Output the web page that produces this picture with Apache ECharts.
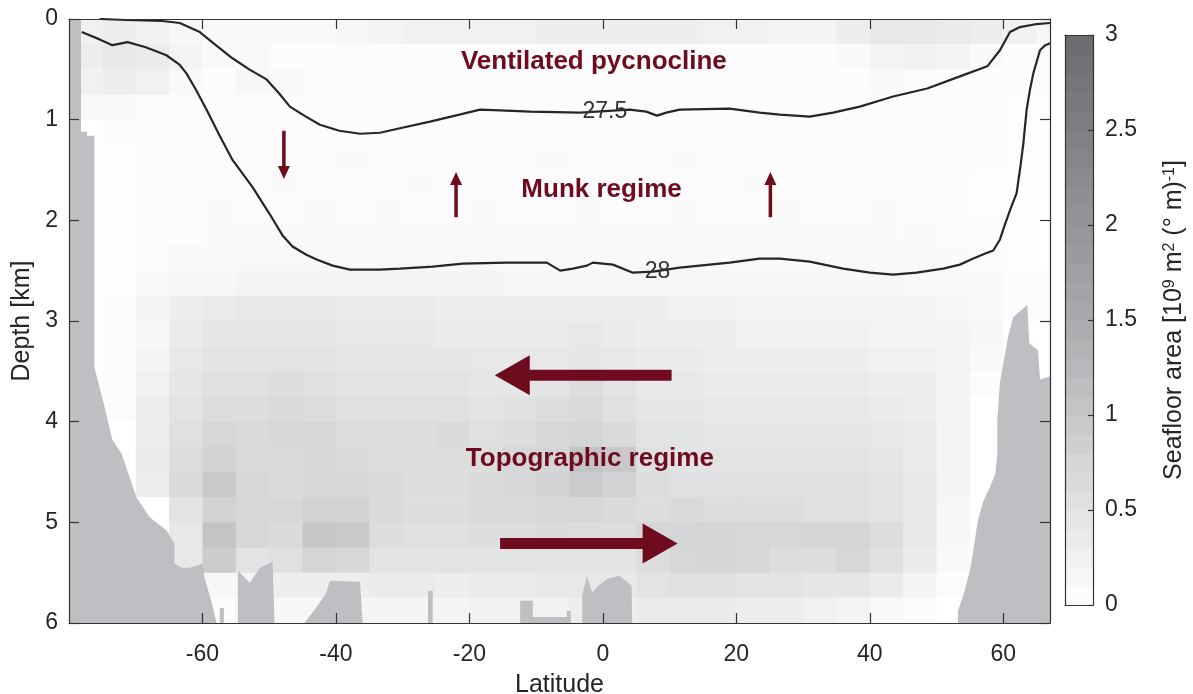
<!DOCTYPE html>
<html>
<head>
<meta charset="utf-8">
<title>Seafloor area by latitude and depth</title>
<script src="https://cdn.jsdelivr.net/npm/echarts@6/dist/echarts.min.js"></script>
<style>
  html, body { margin: 0; padding: 0; background: #fff; }
  #chart { width: 1193px; height: 694px; }
</style>
</head>
<body>
<div id="chart"></div>
<script>
// bin centres of the seafloor-area field (5 deg x 0.25 km)
const lats = [-77.5, -72.5, -67.5, -62.5, -57.5, -52.5, -47.5, -42.5, -37.5, -32.5,
  -27.5, -22.5, -17.5, -12.5, -7.5, -2.5, 2.5, 7.5, 12.5, 17.5,
  22.5, 27.5, 32.5, 37.5, 42.5, 47.5, 52.5, 57.5, 62.5, 67.5]
const depths = [0.125, 0.375, 0.625, 0.875, 1.125, 1.375, 1.625, 1.875, 2.125, 2.375, 2.625, 2.875,
  3.125, 3.375, 3.625, 3.875, 4.125, 4.375, 4.625, 4.875, 5.125, 5.375, 5.625, 5.875]

// seafloor area [10^9 m^2 (deg m)^-1], one row per depth bin
const area = [
  [0.25, 0.3, 0.25, 0.15, 0.1, 0.1, 0.1, 0.1, 0.15, 0.2, 0.25, 0.25, 0.25, 0.25, 0.3, 0.3, 0.3, 0.3, 0.3, 0.25, 0.25, 0.2, 0.2, 0.3, 0.4, 0.4, 0.35, 0.3, 0.25, 0.15],
  [0.3, 0.4, 0.35, 0.2, 0.1, 0.1, 0.05, 0.05, 0.05, 0.05, 0.05, 0.05, 0.05, 0.05, 0.05, 0.05, 0.05, 0.05, 0.05, 0.05, 0.05, 0.05, 0.05, 0.1, 0.2, 0.25, 0.2, 0.1, 0.05, 0.05],
  [0.25, 0.3, 0.25, 0.1, 0.05, 0.15, 0.1, 0.05, 0.05, 0.05, 0.05, 0.05, 0.05, 0.05, 0.05, 0.05, 0.05, 0.05, 0.05, 0.05, 0.05, 0.05, 0.05, 0.05, 0.1, 0.05, 0.05, 0.05, 0.05, 0.05],
  [0.1, 0.1, 0.05, 0.05, 0.05, 0.05, 0.05, 0.05, 0.05, 0.05, 0.05, 0.05, 0.05, 0.05, 0.05, 0.05, 0.05, 0.05, 0.05, 0.05, 0.05, 0.05, 0.05, 0.05, 0.05, 0.05, 0.05, 0.05, 0.03, 0.03],
  [0, 0.05, 0.05, 0.05, 0.05, 0.05, 0.05, 0.05, 0.05, 0.05, 0.05, 0.05, 0.05, 0.05, 0.05, 0.05, 0.05, 0.05, 0.05, 0.05, 0.05, 0.05, 0.05, 0.05, 0.05, 0.05, 0.05, 0.05, 0.03, 0.03],
  [0, 0.03, 0.05, 0.05, 0.05, 0.05, 0.05, 0.05, 0.08, 0.05, 0.05, 0.05, 0.05, 0.05, 0.08, 0.05, 0.05, 0.05, 0.08, 0.05, 0.05, 0.05, 0.05, 0.05, 0.05, 0.05, 0.05, 0.05, 0.03, 0.03],
  [0, 0.03, 0.05, 0.05, 0.05, 0.05, 0.08, 0.05, 0.05, 0.05, 0.08, 0.05, 0.05, 0.05, 0.05, 0.05, 0.08, 0.05, 0.05, 0.05, 0.08, 0.05, 0.05, 0.05, 0.05, 0.05, 0.05, 0.03, 0.03, 0.03],
  [0, 0.03, 0.05, 0.05, 0.08, 0.05, 0.05, 0.08, 0.05, 0.08, 0.05, 0.05, 0.08, 0.05, 0.05, 0.08, 0.05, 0.05, 0.08, 0.05, 0.05, 0.08, 0.05, 0.05, 0.08, 0.05, 0.05, 0.03, 0.03, 0],
  [0, 0.03, 0.05, 0.05, 0.08, 0.08, 0.08, 0.08, 0.08, 0.08, 0.08, 0.08, 0.08, 0.08, 0.08, 0.08, 0.08, 0.08, 0.08, 0.08, 0.08, 0.08, 0.08, 0.08, 0.08, 0.08, 0.05, 0.05, 0.03, 0],
  [0, 0.03, 0.05, 0.1, 0.1, 0.12, 0.12, 0.12, 0.12, 0.12, 0.12, 0.12, 0.12, 0.1, 0.1, 0.1, 0.1, 0.1, 0.1, 0.1, 0.1, 0.1, 0.1, 0.1, 0.1, 0.1, 0.08, 0.05, 0.03, 0],
  [0, 0.03, 0.1, 0.15, 0.15, 0.2, 0.2, 0.2, 0.2, 0.2, 0.2, 0.2, 0.2, 0.15, 0.15, 0.15, 0.15, 0.15, 0.15, 0.15, 0.15, 0.15, 0.15, 0.15, 0.15, 0.1, 0.1, 0.1, 0.05, 0.05],
  [0, 0.05, 0.2, 0.3, 0.35, 0.4, 0.4, 0.4, 0.35, 0.35, 0.35, 0.3, 0.3, 0.3, 0.3, 0.3, 0.3, 0.3, 0.25, 0.25, 0.2, 0.2, 0.2, 0.2, 0.2, 0.2, 0.15, 0.1, 0.05, 0.05],
  [0, 0.05, 0.15, 0.35, 0.45, 0.45, 0.45, 0.45, 0.4, 0.4, 0.4, 0.35, 0.35, 0.35, 0.35, 0.4, 0.35, 0.3, 0.3, 0.3, 0.25, 0.25, 0.25, 0.25, 0.2, 0.2, 0.2, 0.15, 0, 0],
  [0, 0.05, 0.2, 0.4, 0.5, 0.5, 0.5, 0.5, 0.45, 0.45, 0.45, 0.45, 0.4, 0.4, 0.4, 0.45, 0.4, 0.35, 0.35, 0.3, 0.3, 0.3, 0.3, 0.3, 0.25, 0.25, 0.2, 0.1, 0, 0],
  [0, 0.05, 0.25, 0.45, 0.55, 0.55, 0.6, 0.55, 0.5, 0.5, 0.5, 0.5, 0.45, 0.45, 0.5, 0.6, 0.5, 0.4, 0.4, 0.35, 0.35, 0.35, 0.35, 0.35, 0.3, 0.3, 0.2, 0.05, 0, 0],
  [0, 0.05, 0.3, 0.5, 0.6, 0.6, 0.65, 0.6, 0.55, 0.55, 0.55, 0.55, 0.5, 0.55, 0.6, 0.65, 0.55, 0.45, 0.45, 0.4, 0.4, 0.4, 0.4, 0.4, 0.35, 0.3, 0.2, 0, 0, 0],
  [0, 0, 0.3, 0.55, 0.7, 0.65, 0.7, 0.7, 0.6, 0.6, 0.6, 0.65, 0.55, 0.6, 0.7, 0.75, 0.65, 0.5, 0.5, 0.45, 0.45, 0.45, 0.45, 0.45, 0.4, 0.35, 0.2, 0, 0, 0],
  [0, 0, 0.35, 0.6, 0.8, 0.65, 0.65, 0.7, 0.65, 0.6, 0.6, 0.6, 0.6, 0.7, 0.75, 1.05, 0.95, 0.55, 0.5, 0.5, 0.5, 0.5, 0.5, 0.5, 0.45, 0.35, 0.2, 0, 0, 0],
  [0, 0, 0.3, 0.65, 0.95, 0.7, 0.65, 0.7, 0.7, 0.65, 0.6, 0.6, 0.65, 0.7, 0.8, 0.9, 0.8, 0.6, 0.55, 0.55, 0.55, 0.55, 0.55, 0.55, 0.5, 0.4, 0.2, 0, 0, 0],
  [0, 0, 0, 0.5, 0.8, 0.7, 0.7, 0.8, 0.8, 0.65, 0.6, 0.6, 0.65, 0.65, 0.7, 0.7, 0.65, 0.6, 0.65, 0.6, 0.6, 0.6, 0.55, 0.55, 0.5, 0.4, 0.15, 0, 0, 0],
  [0, 0, 0, 0.4, 1.05, 0.7, 0.65, 1.0, 0.95, 0.6, 0.55, 0.55, 0.6, 0.6, 0.65, 0.6, 0.6, 0.7, 0.75, 0.75, 0.7, 0.7, 0.75, 0.75, 0.6, 0.4, 0.15, 0, 0, 0],
  [0, 0, 0, 0.4, 0.9, 0.5, 0.55, 0.75, 0.7, 0.5, 0.5, 0.5, 0.5, 0.5, 0.5, 0.5, 0.5, 0.6, 0.7, 0.75, 0.7, 0.6, 0.6, 0.7, 0.55, 0.35, 0.1, 0, 0, 0],
  [0, 0, 0, 0.2, 0.15, 0.2, 0.3, 0.3, 0.3, 0.35, 0.35, 0.3, 0.35, 0.35, 0.4, 0.4, 0.4, 0.5, 0.55, 0.55, 0.5, 0.5, 0.45, 0.45, 0.35, 0.2, 0.05, 0, 0, 0],
  [0, 0, 0, 0.05, 0.05, 0.1, 0.15, 0.15, 0.2, 0.2, 0.2, 0.2, 0.25, 0.25, 0.25, 0.3, 0.3, 0.35, 0.35, 0.35, 0.3, 0.3, 0.25, 0.2, 0.1, 0.05, 0, 0, 0, 0]
]

const latTicks = [-60, -40, -20, 0, 20, 40, 60]
const cbarLevels = [0.05, 0.15, 0.25, 0.35, 0.45, 0.55, 0.65, 0.75, 0.85, 0.95,
  1.05, 1.15, 1.25, 1.35, 1.45, 1.55, 1.65, 1.75, 1.85, 1.95,
  2.05, 2.15, 2.25, 2.35, 2.45, 2.55, 2.65, 2.75, 2.85, 2.95]

// density contours [lat, depth km]
const sigma275 = [[-75.4, 0.0], [-71.4, 0.01], [-66, 0.02], [-63.4, 0.04], [-60.4, 0.13], [-58, 0.26],
  [-55.5, 0.39], [-53, 0.5], [-50.4, 0.6], [-48.5, 0.74], [-46.9, 0.87], [-44.5, 0.97], [-42.4, 1.05],
  [-39.5, 1.11], [-36.4, 1.14], [-33.4, 1.13], [-30.4, 1.085], [-25.9, 1.02], [-21.5, 0.95], [-18.4, 0.9],
  [-14.5, 0.91], [-10.9, 0.92], [-3.4, 0.93], [4.0, 0.9], [6.5, 0.92], [8.1, 0.96], [9.5, 0.93],
  [11.5, 0.9], [19, 0.89], [23.5, 0.93], [26.5, 0.95], [31, 0.97], [34.5, 0.93], [38.5, 0.87],
  [43.5, 0.77], [48.6, 0.69], [53.5, 0.57], [57.6, 0.47], [59.5, 0.31], [61, 0.13], [62.5, 0.08],
  [65, 0.05], [67, 0.04]]
const sigma28 = [[-78.1, 0.13], [-75.5, 0.2], [-73.5, 0.26], [-71.2, 0.23], [-68.5, 0.28], [-65.4, 0.36],
  [-63.5, 0.45], [-62.4, 0.54], [-61, 0.7], [-59.4, 0.9], [-57.5, 1.15], [-55.5, 1.4], [-52.5, 1.67],
  [-50, 1.93], [-48, 2.15], [-46.5, 2.26], [-44.5, 2.34], [-42.9, 2.39], [-40.5, 2.45], [-37.9, 2.49],
  [-33.4, 2.49], [-30.4, 2.48], [-25.5, 2.46], [-21, 2.43], [-14.5, 2.42], [-8.4, 2.42], [-6.4, 2.5],
  [-4.5, 2.48], [-2.4, 2.45], [-1.5, 2.42], [1.5, 2.44], [4.5, 2.52], [7.5, 2.51], [11.5, 2.47],
  [19, 2.42], [23.5, 2.38], [26.5, 2.38], [31, 2.41], [36, 2.48], [40, 2.52], [43.5, 2.54], [47, 2.52],
  [51, 2.48], [53.5, 2.44], [55.5, 2.38], [57.3, 2.33], [58.5, 2.3], [59.5, 2.19], [60.2, 2.05],
  [61, 1.9], [62, 1.73], [62.6, 1.45], [63, 1.24], [63.5, 0.9], [64, 0.7], [64.5, 0.54], [65.5, 0.31],
  [66.3, 0.26], [67, 0.24]]

// top of the seafloor (grey mask below it)
const seafloor = [[-80, 0], [-78.2, 0], [-78.2, 1.12], [-77.3, 1.12], [-77.3, 1.16], [-76.2, 1.16],
  [-76.2, 3.46], [-74.8, 3.82], [-73.5, 4.18], [-72.1, 4.32], [-69.9, 4.75], [-67.9, 4.95], [-65.4, 5.08],
  [-64.2, 5.21], [-64.2, 5.41], [-63.1, 5.45], [-61.9, 5.45], [-60.0, 5.41], [-59.7, 5.55], [-58.6, 5.8],
  [-57.9, 6], [-57.4, 6], [-57.4, 5.85], [-56.8, 5.85], [-56.8, 6], [-54.7, 6], [-54.7, 5.48],
  [-52.9, 5.6], [-51.4, 5.45], [-49.5, 5.39], [-49.2, 6], [-44.7, 6], [-43.0, 5.85], [-41.5, 5.71],
  [-40.9, 5.58], [-36.4, 5.59], [-36.0, 6], [-26.2, 6], [-26.2, 5.68], [-25.5, 5.68], [-25.5, 6],
  [-12.4, 6], [-12.4, 5.78], [-10.5, 5.78], [-10.5, 5.94], [-5.4, 5.94], [-5.4, 5.88], [-4.8, 5.88],
  [-4.8, 6], [-3.1, 6], [-3.1, 5.73], [-2.4, 5.53], [-1.6, 5.7], [-0.7, 5.63], [0.7, 5.56], [2.5, 5.53],
  [4.3, 5.63], [4.4, 6], [53.2, 6], [53.2, 5.88], [54, 5.73], [55, 5.48], [55.5, 5.28], [56.2, 4.98],
  [57, 4.79], [58, 4.65], [58.8, 4.52], [59.1, 4.32], [59.1, 3.98], [59.5, 3.61], [60.7, 3.16],
  [61.5, 2.96], [63.6, 2.84], [63.9, 3.22], [65.2, 3.29], [65.5, 3.58], [67, 3.55]]

// annotations [lat, depth, text] and arrows [fromLat, fromDepth, toLat, toDepth]
const regimeText = [[-1.35, 0.43, 'Ventilated pycnocline'], [-0.2, 1.7, 'Munk regime'], [-1.95, 4.37, 'Topographic regime']]
const contourText = [[0.3, 0.92, '27.5'], [8.2, 2.51, '28']]
const smallArrows = [[-47.8, 1.11, -47.8, 1.59], [-22.0, 1.97, -22.0, 1.52], [25.1, 1.97, 25.1, 1.52]]
const bigArrows = [[10.3, 3.54, -16.2, 3.54], [-15.4, 5.21, 11.2, 5.21]]

const FONT = 'Liberation Sans, Arial, Helvetica, sans-serif'
const INK = '#262626'
const MAROON = '#6e0b1e'

let cells = []
depths.forEach((d, i) => {
  lats.forEach((lat, j) => {
    cells.push([lat, d, area[i][j]])
  })
})
const latStep = lats[1] - lats[0]
const depStep = depths[1] - depths[0]
const cbarStep = cbarLevels[1] - cbarLevels[0]

function renderCell (params, api) {
  let lat = api.value(0)
  let dep = api.value(1)
  let p0 = api.coord([lat - latStep / 2, dep - depStep / 2])
  let p1 = api.coord([lat + latStep / 2, dep + depStep / 2])
  let rect = echarts.graphic.clipRectByRect({
    x: Math.min(p0[0], p1[0]),
    y: Math.min(p0[1], p1[1]),
    width: Math.abs(p1[0] - p0[0]) + 0.6,
    height: Math.abs(p1[1] - p0[1]) + 0.6
  }, {
    x: params.coordSys.x,
    y: params.coordSys.y,
    width: params.coordSys.width,
    height: params.coordSys.height
  })
  return rect && { type: 'rect', shape: rect, style: { fill: api.visual('color') } }
}

function renderBand (params, api) {
  let v = api.value(1)
  let p0 = api.coord([0, v - cbarStep / 2])
  let p1 = api.coord([1, v + cbarStep / 2])
  return {
    type: 'rect',
    shape: { x: p0[0], y: Math.min(p0[1], p1[1]), width: p1[0] - p0[0], height: Math.abs(p1[1] - p0[1]) + 0.6 },
    style: { fill: api.visual('color') }
  }
}

// arrow polygon: shaft + triangular head
function arrowRenderer (shaft, headW, headL) {
  return function (params, api) {
    let a = api.coord([api.value(0), api.value(1)])
    let b = api.coord([api.value(2), api.value(3)])
    let dx = b[0] - a[0]
    let dy = b[1] - a[1]
    let len = Math.sqrt(dx * dx + dy * dy)
    let ux = dx / len
    let uy = dy / len
    let nx = -uy
    let ny = ux
    let bx = b[0] - ux * headL
    let by = b[1] - uy * headL
    let points = [
      [a[0] + nx * shaft / 2, a[1] + ny * shaft / 2],
      [bx + nx * shaft / 2, by + ny * shaft / 2],
      [bx + nx * headW / 2, by + ny * headW / 2],
      [b[0], b[1]],
      [bx - nx * headW / 2, by - ny * headW / 2],
      [bx - nx * shaft / 2, by - ny * shaft / 2],
      [a[0] - nx * shaft / 2, a[1] - ny * shaft / 2]
    ]
    return { type: 'polygon', shape: { points }, style: { fill: MAROON } }
  }
}

function textRenderer (list, style) {
  return function (params, api) {
    let p = api.coord([api.value(0), api.value(1)])
    return {
      type: 'text',
      x: p[0],
      y: p[1],
      style: Object.assign({ text: list[params.dataIndex][2], align: 'center', verticalAlign: 'middle' }, style)
    }
  }
}

const axisLineStyle = { color: '#333', width: 1.2 }
const tickStyle = { color: '#333', width: 1.2 }

let chart = echarts.init(document.getElementById('chart'))
let option = {
  animation: false,
  backgroundColor: '#fff',
  textStyle: { fontFamily: FONT },
  grid: [
    { left: 69, top: 19, width: 981, height: 604, outerBoundsMode: 'none', containLabel: false },
    { left: 1065, top: 35, width: 28, height: 570, outerBoundsMode: 'none', containLabel: false }
  ],
  visualMap: {
    type: 'continuous',
    show: false,
    min: 0,
    max: 3,
    dimension: 2,
    seriesIndex: [0, 1],
    inRange: { color: ['#ffffff', '#a9aaad', '#6a6b6f'] }
  },
  xAxis: [
    {
      type: 'value', gridIndex: 0, position: 'bottom', min: -80, max: 67, interval: 20, z: 10,
      axisLine: { show: true, onZero: false, lineStyle: axisLineStyle },
      axisTick: { show: true, inside: true, length: 10, customValues: latTicks, lineStyle: tickStyle },
      axisLabel: { customValues: latTicks, margin: 20, fontSize: 23, color: INK, fontFamily: FONT },
      splitLine: { show: false },
      name: 'Latitude', nameLocation: 'middle', nameGap: 50,
      nameTextStyle: { fontSize: 25, color: INK, fontFamily: FONT }
    },
    {
      type: 'value', gridIndex: 0, position: 'top', min: -80, max: 67, interval: 20, z: 10,
      axisLine: { show: true, onZero: false, lineStyle: axisLineStyle },
      axisTick: { show: true, inside: true, length: 10, customValues: latTicks, lineStyle: tickStyle },
      axisLabel: { show: false },
      splitLine: { show: false }
    },
    {
      type: 'value', gridIndex: 1, position: 'bottom', min: 0, max: 1, z: 10,
      axisLine: { show: true, onZero: false, lineStyle: axisLineStyle },
      axisTick: { show: false }, axisLabel: { show: false }, splitLine: { show: false }
    },
    {
      type: 'value', gridIndex: 1, position: 'top', min: 0, max: 1, z: 10,
      axisLine: { show: true, onZero: false, lineStyle: axisLineStyle },
      axisTick: { show: false }, axisLabel: { show: false }, splitLine: { show: false }
    }
  ],
  yAxis: [
    {
      type: 'value', gridIndex: 0, position: 'left', min: 0, max: 6, interval: 1, inverse: true, z: 10,
      axisLine: { show: true, onZero: false, lineStyle: axisLineStyle },
      axisTick: { show: true, inside: true, length: 10, lineStyle: tickStyle },
      axisLabel: { margin: 11, fontSize: 23, color: INK, fontFamily: FONT },
      splitLine: { show: false },
      name: 'Depth [km]', nameLocation: 'middle', nameGap: 29,
      nameTextStyle: { fontSize: 25, color: INK, fontFamily: FONT }
    },
    {
      type: 'value', gridIndex: 0, position: 'right', min: 0, max: 6, interval: 1, inverse: true, z: 10,
      axisLine: { show: true, onZero: false, lineStyle: axisLineStyle },
      axisTick: { show: true, inside: true, length: 10, lineStyle: tickStyle },
      axisLabel: { show: false },
      splitLine: { show: false }
    },
    {
      type: 'value', gridIndex: 1, position: 'left', min: 0, max: 3, interval: 0.5, z: 10,
      axisLine: { show: true, onZero: false, lineStyle: axisLineStyle },
      axisTick: { show: false }, axisLabel: { show: false }, splitLine: { show: false }
    },
    {
      type: 'value', gridIndex: 1, position: 'right', min: 0, max: 3, interval: 0.5, z: 10,
      axisLine: { show: true, onZero: false, lineStyle: axisLineStyle },
      axisTick: { show: true, inside: true, length: 5, lineStyle: tickStyle },
      axisLabel: { margin: 12, fontSize: 23, color: INK, fontFamily: FONT },
      splitLine: { show: false },
      name: 'Seafloor area [10{sup|9} m{sup|2} (° m){sup|-1}]',
      nameLocation: 'middle', nameGap: 69,
      nameTextStyle: {
        fontSize: 25, color: INK, fontFamily: FONT,
        rich: { sup: { fontSize: 16, color: INK, fontFamily: FONT, verticalAlign: 'top' } }
      }
    }
  ],
  series: [
    {
      // seafloor area field
      type: 'custom', xAxisIndex: 0, yAxisIndex: 0, z: 1, silent: true,
      renderItem: renderCell,
      encode: { x: 0, y: 1 },
      data: cells
    },
    {
      // colour bar bands
      type: 'custom', xAxisIndex: 2, yAxisIndex: 2, z: 1, silent: true,
      renderItem: renderBand,
      encode: { x: 0, y: 1 },
      data: cbarLevels.map(v => [0.5, v, v])
    },
    {
      // bathymetry mask
      type: 'line', xAxisIndex: 0, yAxisIndex: 0, z: 3, silent: true,
      showSymbol: false,
      lineStyle: { width: 0 },
      areaStyle: { color: '#bebfc3', opacity: 1, origin: 'end' },
      data: seafloor
    },
    {
      type: 'line', xAxisIndex: 0, yAxisIndex: 0, z: 4, silent: true,
      showSymbol: false,
      lineStyle: { color: INK, width: 2.2 },
      data: sigma275
    },
    {
      type: 'line', xAxisIndex: 0, yAxisIndex: 0, z: 4, silent: true,
      showSymbol: false,
      lineStyle: { color: INK, width: 2.2 },
      data: sigma28
    },
    {
      type: 'custom', xAxisIndex: 0, yAxisIndex: 0, z: 5, silent: true,
      renderItem: textRenderer(contourText, { fontSize: 23, fontFamily: FONT, fill: '#333' }),
      encode: { x: 0, y: 1 },
      data: contourText.map(t => [t[0], t[1]])
    },
    {
      type: 'custom', xAxisIndex: 0, yAxisIndex: 0, z: 6, silent: true,
      renderItem: textRenderer(regimeText, { fontSize: 26, fontWeight: 'bold', fontFamily: FONT, fill: MAROON }),
      encode: { x: 0, y: 1 },
      data: regimeText.map(t => [t[0], t[1]])
    },
    {
      type: 'custom', xAxisIndex: 0, yAxisIndex: 0, z: 6, silent: true,
      renderItem: arrowRenderer(3.5, 12, 13),
      encode: { x: [0, 2], y: [1, 3] },
      data: smallArrows
    },
    {
      type: 'custom', xAxisIndex: 0, yAxisIndex: 0, z: 6, silent: true,
      renderItem: arrowRenderer(11, 40, 35),
      encode: { x: [0, 2], y: [1, 3] },
      data: bigArrows
    }
  ]
}
chart.setOption(option)
</script>
</body>
</html>
